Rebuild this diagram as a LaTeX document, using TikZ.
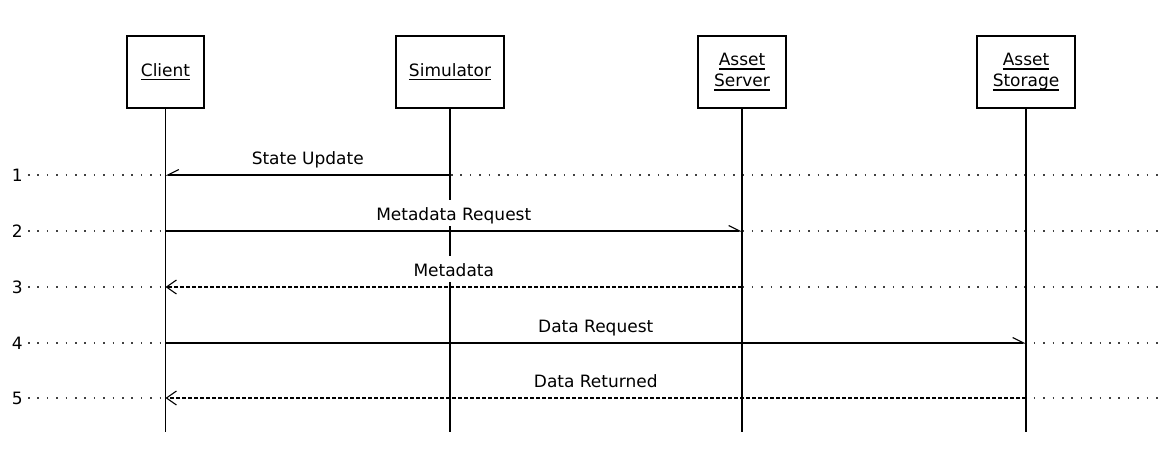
\documentclass[tikz,border=0pt]{standalone}
\usepackage{fontspec}
\setmainfont{DejaVu Sans}
\usetikzlibrary{arrows.meta}
% underlined object name, as in UML instance boxes
\newcommand\ulname[1]{\setbox0\hbox{#1}\rlap{\rule[-4pt]{\wd0}{1.2pt}}\box0}
\begin{document}
\begin{tikzpicture}[x=1pt,y=-1pt,
  every node/.style={font=\fontsize{17pt}{21pt}\selectfont},
  actor/.style={draw, line width=1.1pt, minimum height=72pt, inner sep=0pt, align=center},
  lifeline/.style={line width=1.2pt},
  grid/.style={line width=1.5pt, black!75, dash pattern=on 1.5pt off 7.9pt},
  underlay/.style={white, line width=3pt},
  msg/.style={line width=1.1pt, -{Straight Barb[harpoon, length=11pt, width=11pt, line width=1.1pt]}},
  msgback/.style={line width=1.1pt, -{Straight Barb[harpoon, swap, length=11pt, width=11pt, line width=1.1pt]}},
  reply/.style={line width=1.1pt, dash pattern=on 4pt off 2pt, -{Straight Barb[length=10pt, width=14pt, line width=1.1pt]}},
  mlabel/.style={fill=white, inner xsep=2pt, inner ysep=3pt, text height=17pt, text depth=3pt},
  num/.style={anchor=east, inner xsep=5pt, inner ysep=0pt}
]
\useasboundingbox (0,0) rectangle (1161,457);

% participants
\node[actor, minimum width=77pt]  (client) at (165.5,72) {\ulname{Client}};
\node[actor, minimum width=108pt] (sim)    at (450,72)   {\ulname{Simulator}};
\node[actor, minimum width=88pt]  (srv)    at (742,72)   {\ulname{Asset}\\\ulname{Server}};
\node[actor, minimum width=98pt]  (sto)    at (1026,72)  {\ulname{Asset}\\\ulname{Storage}};

% rows of the numbered steps
\coordinate (r1) at (0,175);
\coordinate (r2) at (0,231);
\coordinate (r3) at (0,287);
\coordinate (r4) at (0,343);
\coordinate (r5) at (0,398);
\coordinate (bot) at (0,432);

% step numbers with dotted guide lines
\foreach \i in {1,...,5} {
  \node[num] (n\i) at (28,0 |- r\i) {\i};
  \coordinate (g\i) at (1158,0 |- r\i);
  \draw[grid] (n\i.east) -- (g\i);
}

% clear the guide lines under the messages
\draw[underlay] (sim |- r1) -- (client |- r1);
\draw[underlay] (client |- r2) -- (srv |- r2);
\draw[underlay] (srv |- r3) -- (client |- r3);
\draw[underlay] (client |- r4) -- (sto |- r4);
\draw[underlay] (sto |- r5) -- (client |- r5);

% lifelines
\draw[lifeline] (client.south) -- (client |- bot);
\draw[lifeline] (sim.south) -- (sim |- bot);
\draw[lifeline] (srv.south) -- (srv |- bot);
\draw[lifeline] (sto.south) -- (sto |- bot);

% messages
\draw[msgback] (sim |- r1) -- node[midway, above=4pt, mlabel] (l1) {State Update} (client |- r1);
\draw[msg] (client |- r2) -- node[midway, above=4pt, mlabel] (l2) {Metadata Request} (srv |- r2);
\draw[reply] (srv |- r3) -- node[midway, above=4pt, mlabel] (l3) {Metadata} (client |- r3);
\draw[msg] (client |- r4) -- node[midway, above=4pt, mlabel] (l4) {Data Request} (sto |- r4);
\draw[reply] (sto |- r5) -- node[midway, above=4pt, mlabel] (l5) {Data Returned} (client |- r5);
\end{tikzpicture}
\end{document}
